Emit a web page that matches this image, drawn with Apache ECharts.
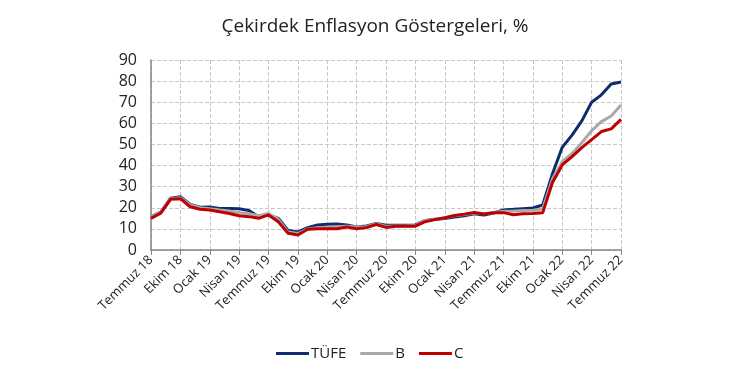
<!DOCTYPE html>
<html><head><meta charset="utf-8">
<script src="https://cdn.jsdelivr.net/npm/echarts@6/dist/echarts.min.js"></script>
<style>html,body{margin:0;padding:0;background:#fff}#c{width:750px;height:375px}</style>
</head><body><div id="c"></div>
<script>
const months = ['Temmuz 18','Ağustos 18','Eylül 18','Ekim 18','Kasım 18','Aralık 18',
'Ocak 19','Şubat 19','Mart 19','Nisan 19','Mayıs 19','Haziran 19','Temmuz 19','Ağustos 19','Eylül 19','Ekim 19','Kasım 19','Aralık 19',
'Ocak 20','Şubat 20','Mart 20','Nisan 20','Mayıs 20','Haziran 20','Temmuz 20','Ağustos 20','Eylül 20','Ekim 20','Kasım 20','Aralık 20',
'Ocak 21','Şubat 21','Mart 21','Nisan 21','Mayıs 21','Haziran 21','Temmuz 21','Ağustos 21','Eylül 21','Ekim 21','Kasım 21','Aralık 21',
'Ocak 22','Şubat 22','Mart 22','Nisan 22','Mayıs 22','Haziran 22','Temmuz 22'];
const tufe = [15.85,17.90,24.52,25.24,21.62,20.30,20.35,19.67,19.71,19.50,18.71,15.72,16.65,15.01,9.26,8.55,10.56,11.84,12.15,12.37,11.86,10.94,11.39,12.62,11.76,11.77,11.75,11.89,14.03,14.60,14.97,15.61,16.19,17.14,16.59,17.53,18.95,19.25,19.58,19.89,21.31,36.08,48.69,54.44,61.14,69.97,73.50,78.62,79.60];
const bIdx = [15.8,17.8,24.3,24.8,21.3,20.0,19.6,19.0,18.5,17.7,17.2,16.2,17.3,14.5,8.5,7.8,10.0,10.5,10.8,11.0,11.2,10.9,11.0,12.5,11.2,11.4,11.4,11.6,14.0,14.5,15.3,16.2,16.8,17.5,17.2,17.8,18.4,18.5,18.7,18.8,19.4,33.6,41.8,45.7,50.8,56.5,60.8,63.5,68.7];
const cIdx = [15.0,17.5,24.0,24.3,20.5,19.3,18.9,18.1,17.3,16.2,15.8,15.0,16.6,13.4,7.9,7.1,9.8,10.1,10.1,10.1,10.9,10.1,10.6,12.1,10.7,11.2,11.2,11.3,13.4,14.4,15.3,16.3,17.0,17.8,17.1,17.7,17.7,16.7,17.2,17.3,17.6,32.0,40.3,44.2,48.5,52.3,56.1,57.4,61.9];
const yTicks = [0,10,20,30,40,50,60,70,80,90];

const chart = echarts.init(document.getElementById('c'));
const FONT = 'Open Sans';
chart.setOption({
  animation: false,
  textStyle: {fontFamily: FONT},
  title: {text: 'Çekirdek Enflasyon Göstergeleri, %', left: 'center', top: 12,
    textStyle: {fontFamily: FONT, fontSize: 19, fontWeight: 'normal', color: '#222'}},
  legend: {bottom: 9, left: 271, itemWidth: 33, itemHeight: 3, itemGap: 14,
    icon: 'rect',
    textStyle: {fontFamily: FONT, fontSize: 15, color: '#222', padding: [0, 0, 0, -3]},
    data: ['TÜFE','B','C']},
  grid: {left: 151, right: 129, top: 60, bottom: 125},
  xAxis: {type: 'category', data: months, boundaryGap: false,
    axisLine: {lineStyle: {color: '#868686', width: 1.5}},
    axisTick: {show: true, interval: 2, length: 5, lineStyle: {color: '#868686'}},
    axisLabel: {interval: 2, rotate: 45, fontSize: 13, color: '#222', margin: 8},
    splitLine: {show: true, interval: 2, lineStyle: {color: '#c8c8c8', type: 'dashed'}}},
  yAxis: {type: 'value', min: 0, max: 90, interval: 10,
    axisLine: {show: true, lineStyle: {color: '#868686', width: 1.5}},
    axisTick: {show: false},
    axisLabel: {fontSize: 16, color: '#222', margin: 14, formatter: v => yTicks.includes(v) ? String(v) : ''},
    splitLine: {lineStyle: {color: '#c8c8c8', type: 'dashed'}}},
  series: [
    {name: 'TÜFE', type: 'line', data: tufe, showSymbol: false, lineStyle: {width: 3, color: '#0f2d6e'}, itemStyle: {color: '#0f2d6e'}},
    {name: 'B', type: 'line', data: bIdx, showSymbol: false, lineStyle: {width: 3, color: '#a9a9a9'}, itemStyle: {color: '#a9a9a9'}},
    {name: 'C', type: 'line', data: cIdx, showSymbol: false, lineStyle: {width: 3, color: '#c00000'}, itemStyle: {color: '#c00000'}}
  ]
});
</script></body></html>
